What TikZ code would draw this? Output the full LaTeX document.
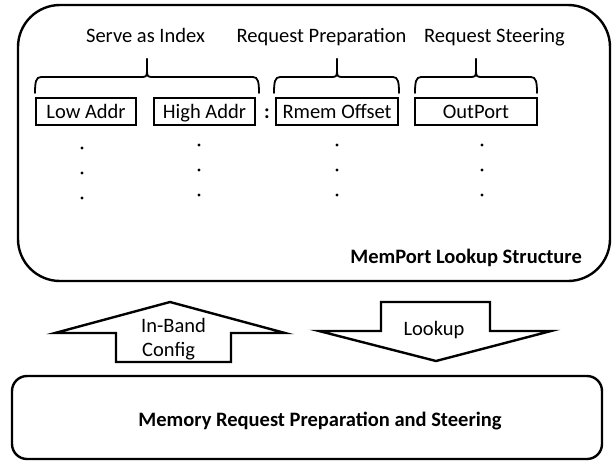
\documentclass[tikz,border=0pt]{standalone}
\usepackage{fontspec}
\setmainfont{Carlito}
% curly brace over a group of fields: left end, tip, right end (x values)
\newcommand\fieldbrace[3]{%
  \draw[braceline] (#1,93) .. controls (#1,82) and (#1+1,77) .. (#1+6,77)
    -- (#2-5,77) .. controls (#2-1,77) and (#2,76) .. (#2,71) -- (#2,59);
  \draw[braceline] (#3,93) .. controls (#3,82) and (#3-1,77) .. (#3-6,77)
    -- (#2+5,77) .. controls (#2+1,77) and (#2,76) .. (#2,71) -- (#2,59);
}
\begin{document}
\begin{tikzpicture}[x=1pt,y=-1pt,
  txt/.style={inner sep=0pt, font=\fontsize{20.5}{24}\selectfont},
  boldtxt/.style={inner sep=0pt, font=\fontsize{20.5}{24}\selectfont\bfseries},
  field/.style={draw, line width=1.8pt, minimum height=27pt, inner sep=0pt,
    text height=16pt, text depth=2pt, font=\fontsize{20.5}{24}\selectfont},
  braceline/.style={line width=1.8pt, line cap=round, line join=round},
  panel/.style={draw, line width=2.4pt},
  blockarrow/.style={draw, line width=2.4pt, line join=miter, fill=white},
  dotmark/.style={fill=black}]
\useasboundingbox (0,0) rectangle (616,464);

% lookup structure panel
\draw[panel, rounded corners=42pt] (18,5) rectangle (610,281);
\node[boldtxt, anchor=base east] (title) at (582,263) {MemPort Lookup Structure};

% group labels
\node[txt, anchor=base] (lblindex) at (145.5,42) {Serve as Index};
\node[txt, anchor=base] (lblprep) at (321.5,42) {Request Preparation};
\node[txt, anchor=base] (lblsteer) at (494.5,42) {Request Steering};

% braces
\fieldbrace{35}{147}{259}
\fieldbrace{274}{337}{399}
\fieldbrace{415}{476}{537}

% fields
\node[field, minimum width=100pt] (low) at (86,111.5) {Low Addr};
\node[field, minimum width=101pt] (high) at (204.5,111.5) {High Addr};
\node[boldtxt, anchor=base] (colon) at (267,118) {:};
\node[field, minimum width=122pt] (rmem) at (337,111.5) {Rmem Offset};
\node[field, minimum width=122pt] (outport) at (476,111.5) {OutPort};

% vertical ellipses below each field
\foreach \y in {148,173,198} \fill[dotmark] (82,\y) circle (1.6pt);
\foreach \x in {199,337,482}
  \foreach \y in {145,170,195} \fill[dotmark] (\x,\y) circle (1.6pt);

% in-band configuration (up) and lookup (down) arrows
\draw[blockarrow] (116,362) -- (116,333) -- (55,333) -- (170,302) -- (285,333)
  -- (231,333) -- (231,362) -- cycle;
\node[txt, anchor=base west] (inband) at (141,332) {In-Band};
\node[txt, anchor=base west] (config) at (142,356) {Config};

\draw[blockarrow] (381,302) -- (490,302) -- (490,331) -- (551,331) -- (436,361)
  -- (319,331) -- (381,331) -- cycle;
\node[txt, anchor=base] (lookup) at (434,335) {Lookup};

% memory request block
\draw[panel, rounded corners=15pt] (12,376) rectangle (602,459);
\node[boldtxt, anchor=base] (memreq) at (320,426) {Memory Request Preparation and Steering};
\end{tikzpicture}
\end{document}
